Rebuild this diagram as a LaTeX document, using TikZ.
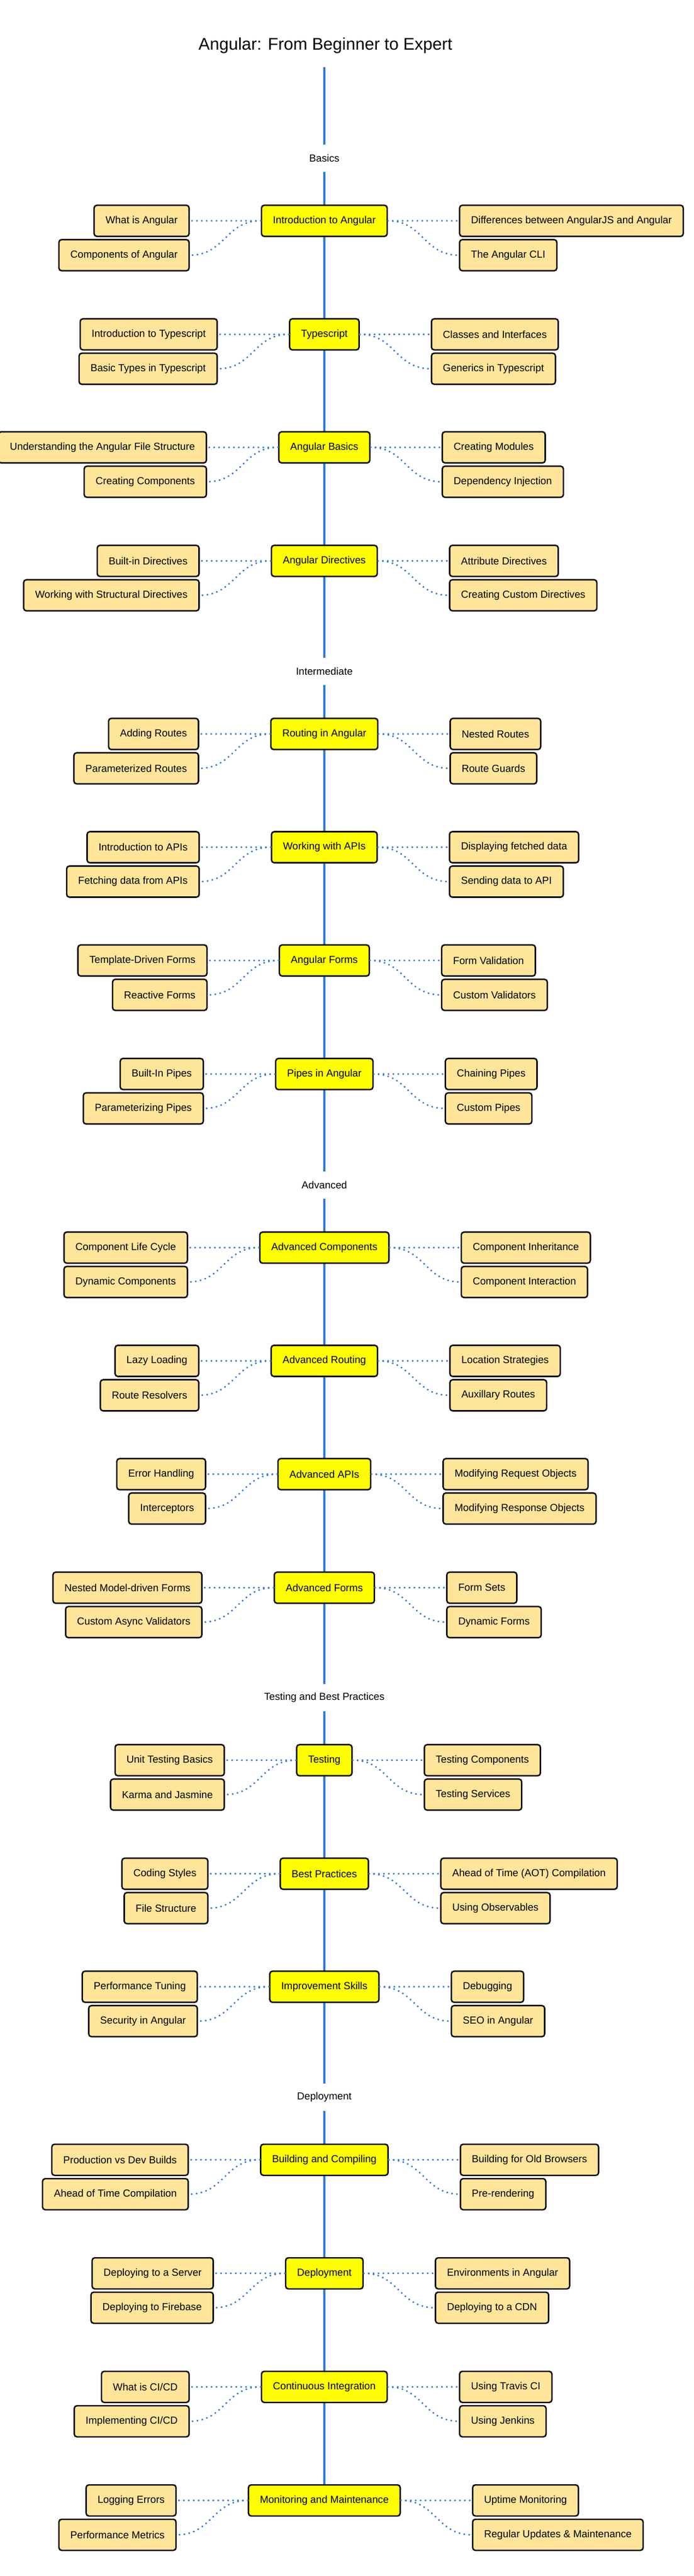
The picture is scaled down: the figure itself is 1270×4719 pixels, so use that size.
\documentclass[tikz,border=0pt]{standalone}
\usepackage{fontspec}
\setmainfont{Liberation Sans}
\usetikzlibrary{backgrounds}
\definecolor{lineblue}{HTML}{2B78E4}
\definecolor{subfill}{HTML}{FFE599}
\definecolor{mainfill}{HTML}{FFFF00}
\tikzset{
  boxbase/.style={draw=black, line width=2.6pt, rounded corners=5pt,
    minimum height=57pt, inner xsep=21pt, inner ysep=0pt,
    font=\fontsize{18.7}{22}\selectfont},
  mainbox/.style={boxbase, fill=mainfill},
  subbox/.style={boxbase, fill=subfill},
  conn/.style={lineblue, line width=3.7pt, line cap=round, dash pattern=on 0pt off 9pt},
  spine/.style={lineblue, line width=3.6pt},
  seclabel/.style={inner sep=0pt, minimum height=50pt, font=\fontsize{18.7}{22}\selectfont},
  titlelabel/.style={inner sep=0pt, font=\fontsize{31}{36}\selectfont},
}
\newcommand\topicgroup[7]{%
  \node[mainbox] (#1) at (594,#2+28.5) {#3};
  \node[subbox, anchor=east] (#1a) at ([xshift=-130pt]#1.west) {#4};
  \node[subbox, anchor=east] (#1b) at ([xshift=-130pt,yshift=-63pt]#1.west) {#5};
  \node[subbox, anchor=west] (#1c) at ([xshift=130pt]#1.east) {#6};
  \node[subbox, anchor=west] (#1d) at ([xshift=130pt,yshift=-63pt]#1.east) {#7};
  \draw[conn] (#1.west) -- (#1a.east);
  \draw[conn] (#1.west) .. controls +(-65,0) and +(65,0) .. (#1b.east);
  \draw[conn] (#1.east) -- (#1c.west);
  \draw[conn] (#1.east) .. controls +(65,0) and +(-65,0) .. (#1d.west);
}
\begin{document}
\begin{tikzpicture}[x=1pt,y=-1pt]
\useasboundingbox (0,0) rectangle (1270,4719);

\node[titlelabel] (title) at (596,83) {Angular: From Beginner to Expert};
\coordinate (spinetop) at (594,123);

\node[seclabel] (secA) at (594,290) {Basics};
\node[seclabel] (secB) at (594,1230) {Intermediate};
\node[seclabel] (secC) at (594,2171) {Advanced};
\node[seclabel] (secD) at (594,3110) {Testing and Best Practices};
\node[seclabel] (secE) at (594,3842) {Deployment};

\topicgroup{ga}{376}{Introduction to Angular}{What is Angular}{Components of Angular}{Differences between AngularJS and Angular}{The Angular CLI}
\topicgroup{gb}{584}{Typescript}{Introduction to Typescript}{Basic Types in Typescript}{Classes and Interfaces}{Generics in Typescript}
\topicgroup{gc}{791}{Angular Basics}{Understanding the Angular File Structure}{Creating Components}{Creating Modules}{Dependency Injection}
\topicgroup{gd}{999}{Angular Directives}{Built-in Directives}{Working with Structural Directives}{Attribute Directives}{Creating Custom Directives}

\topicgroup{ge}{1316}{Routing in Angular}{Adding Routes}{Parameterized Routes}{Nested Routes}{Route Guards}
\topicgroup{gf}{1523.5}{Working with APIs}{Introduction to APIs}{Fetching data from APIs}{Displaying fetched data}{Sending data to API}
\topicgroup{gg}{1731}{Angular Forms}{Template-Driven Forms}{Reactive Forms}{Form Validation}{Custom Validators}
\topicgroup{gh}{1939}{Pipes in Angular}{Built-In Pipes}{Parameterizing Pipes}{Chaining Pipes}{Custom Pipes}

\topicgroup{gi}{2257}{Advanced Components}{Component Life Cycle}{Dynamic Components}{Component Inheritance}{Component Interaction}
\topicgroup{gj}{2464.5}{Advanced Routing}{Lazy Loading}{Route Resolvers}{Location Strategies}{Auxillary Routes}
\topicgroup{gk}{2672}{Advanced APIs}{Error Handling}{Interceptors}{Modifying Request Objects}{Modifying Response Objects}
\topicgroup{gl}{2880}{Advanced Forms}{Nested Model-driven Forms}{Custom Async Validators}{Form Sets}{Dynamic Forms}

\topicgroup{gm}{3196}{Testing}{Unit Testing Basics}{Karma and Jasmine}{Testing Components}{Testing Services}
\topicgroup{gn}{3404}{Best Practices}{Coding Styles}{File Structure}{Ahead of Time (AOT) Compilation}{Using Observables}
\topicgroup{go}{3611}{Improvement Skills}{Performance Tuning}{Security in Angular}{Debugging}{SEO in Angular}

\topicgroup{gp}{3928}{Building and Compiling}{Production vs Dev Builds}{Ahead of Time Compilation}{Building for Old Browsers}{Pre-rendering}
\topicgroup{gq}{4136}{Deployment}{Deploying to a Server}{Deploying to Firebase}{Environments in Angular}{Deploying to a CDN}
\topicgroup{gr}{4344}{Continuous Integration}{What is CI/CD}{Implementing CI/CD}{Using Travis CI}{Using Jenkins}
\topicgroup{gs}{4552}{Monitoring and Maintenance}{Logging Errors}{Performance Metrics}{Uptime Monitoring}{Regular Updates \& Maintenance}

\begin{pgfonlayer}{background}
  \fill[white] (0,0) rectangle (1270,4719);
  \draw[spine] (spinetop) -- (secA.north);
  \draw[spine] (secA.south) -- (secB.north);
  \draw[spine] (secB.south) -- (secC.north);
  \draw[spine] (secC.south) -- (secD.north);
  \draw[spine] (secD.south) -- (secE.north);
  \draw[spine] (secE.south) -- (gs.north);
\end{pgfonlayer}
\end{tikzpicture}
\end{document}
